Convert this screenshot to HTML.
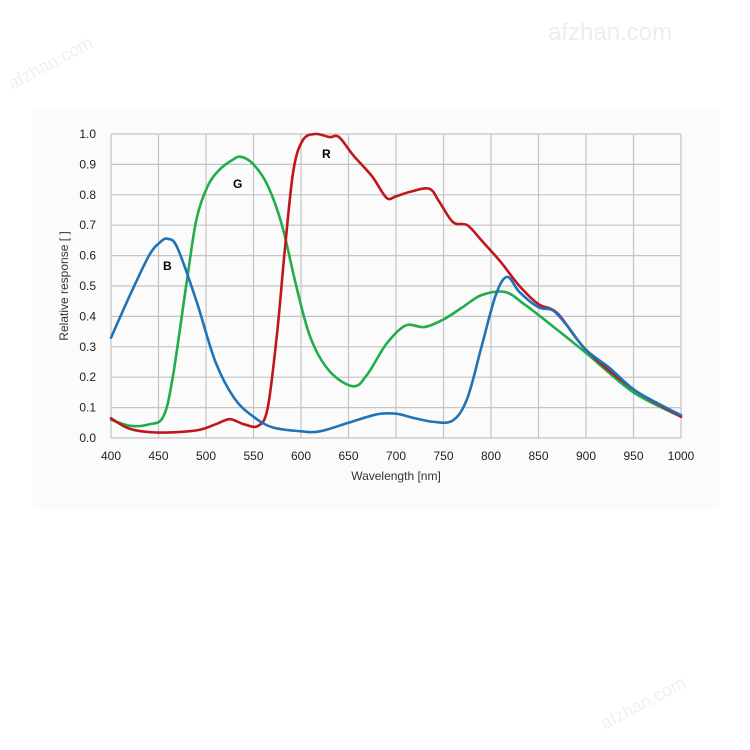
<!DOCTYPE html>
<html><head><meta charset="utf-8"><style>
html,body{margin:0;padding:0;background:#fff;}
svg{display:block;font-family:"Liberation Sans",Arial,sans-serif;}
</style></head><body>
<svg id="s" width="750" height="750" viewBox="0 0 750 750" xmlns="http://www.w3.org/2000/svg">
<rect x="0" y="0" width="750" height="750" fill="#fff"/>
<rect x="33" y="108" width="686" height="402" rx="4" fill="#fbfbfb"/>
<text x="548" y="40" font-size="24" fill="#ededed">afzhan.com</text>
<text transform="translate(12,90) rotate(-28)" font-size="18" fill="#f0f0f0">afzhan.com</text>
<text transform="translate(605,730) rotate(-28)" font-size="18" fill="#f0f0f0">afzhan.com</text>
<g id="grid" stroke="#c4c4c4" stroke-width="1.2"></g>
<g id="lab" font-size="12" fill="#222"></g>
<text x="396" y="480" font-size="12" text-anchor="middle" fill="#333">Wavelength [nm]</text>
<text transform="translate(68,286) rotate(-90)" font-size="12" text-anchor="middle" fill="#333">Relative response [ ]</text>
<g id="curves" fill="none" stroke-width="2.6" stroke-linejoin="round" stroke-linecap="round"></g>
<text x="163" y="270" font-size="12" font-weight="bold">B</text>
<text x="233" y="188" font-size="12" font-weight="bold">G</text>
<text x="322" y="158" font-size="12" font-weight="bold">R</text>
</svg>
<script>
var NS="http://www.w3.org/2000/svg";
function X(n){return 111+(n-400)*0.95;}
function Y(v){return 438-v*304;}
var g=document.getElementById('grid'),lab=document.getElementById('lab');
function el(p,t,a,txt){var e=document.createElementNS(NS,t);for(var k in a)e.setAttribute(k,a[k]);if(txt)e.textContent=txt;p.appendChild(e);return e;}
for(var n=400;n<=1000;n+=50){el(g,'line',{x1:X(n),x2:X(n),y1:Y(1),y2:Y(0)});el(lab,'text',{x:X(n),y:460,'text-anchor':'middle'},String(n));}
for(var i=0;i<=10;i++){var v=i/10;el(g,'line',{x1:X(400),x2:X(1000),y1:Y(v),y2:Y(v)});el(lab,'text',{x:96,y:Y(v)+4,'text-anchor':'end'},v.toFixed(1));}
var B=[[400,.33],[420,.47],[440,.6],[452,.645],[460,.655],[470,.625],[490,.45],[510,.25],[530,.13],[550,.07],[570,.035],[600,.022],[620,.022],[650,.05],[680,.078],[700,.08],[720,.065],[740,.053],[760,.058],[775,.13],[790,.3],[805,.47],[817,.53],[830,.48],[850,.43],[865,.42],[880,.37],[900,.29],[925,.23],[950,.16],[975,.115],[1000,.075]];
var G=[[400,.06],[420,.04],[440,.045],[455,.07],[465,.2],[480,.52],[490,.72],[502,.83],[515,.885],[528,.915],[537,.925],[550,.9],[565,.83],[580,.7],[595,.5],[610,.33],[630,.22],[655,.17],[670,.21],[690,.31],[710,.37],[730,.365],[750,.39],[770,.43],[790,.47],[815,.48],[835,.44],[860,.38],[900,.28],[950,.15],[1000,.07]];
var R=[[400,.065],[420,.03],[450,.018],[490,.025],[510,.045],[525,.062],[540,.045],[555,.04],[565,.1],[575,.35],[583,.62],[592,.88],[602,.98],[615,1.0],[630,.99],[640,.99],[655,.93],[675,.86],[690,.79],[700,.795],[715,.81],[735,.82],[745,.78],[760,.71],[775,.70],[790,.65],[810,.58],[830,.5],[850,.44],[870,.41],[900,.29],[950,.16],[1000,.07]];
function path(d){var p=d.map(function(a){return [X(a[0]),Y(a[1])];});var s='M'+p[0][0]+','+p[0][1];
for(var i=0;i<p.length-1;i++){var p0=p[i-1]||p[i],p1=p[i],p2=p[i+1],p3=p[i+2]||p2;
var c1=[p1[0]+(p2[0]-p0[0])/6,p1[1]+(p2[1]-p0[1])/6],c2=[p2[0]-(p3[0]-p1[0])/6,p2[1]-(p3[1]-p1[1])/6];
s+=' C'+c1+' '+c2+' '+p2;}return s;}
var c=document.getElementById('curves');
el(c,'path',{d:path(G),stroke:'#1fae4b'});
el(c,'path',{d:path(R),stroke:'#c0171d'});
el(c,'path',{d:path(B),stroke:'#1f74b8'});
</script>
</body></html>
